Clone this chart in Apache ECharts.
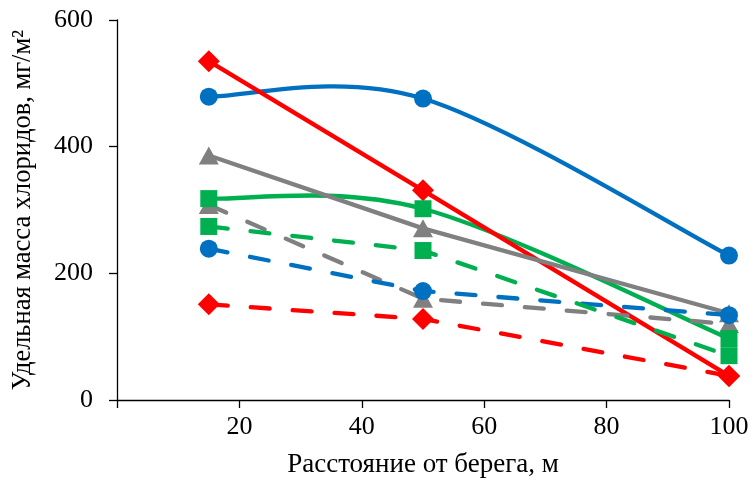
<!DOCTYPE html>
<html>
<head>
<meta charset="utf-8">
<script src="https://cdn.jsdelivr.net/npm/echarts@6/dist/echarts.min.js"></script>
<style>html,body{margin:0;padding:0;background:#fff}#c{width:753px;height:486px}</style>
</head>
<body>
<div id="c"></div>
<script>
var distances = [15, 50, 100];
var blueSolid = [479, 476, 228];
var redSolid = [535, 331, 38];
var graySolid = [386, 271, 137];
var greenSolid = [318, 302, 97];
var blueDashed = [239, 172, 134];
var grayDashed = [308, 160, 120];
var greenDashed = [274, 236, 70];
var redDashed = [151, 128, 38];
var xTicks = [0, 20, 40, 60, 80, 100];
var yTicks = [0, 200, 400, 600];

var BLUE = '#0070C0', RED = '#FF0000', GRAY = '#808080', GREEN = '#00B050';
var FONT = 'Liberation Serif';
var LW = 4.3;
function pts(vals){ return distances.map(function(x,i){ return [x, vals[i]]; }); }
function mk(vals, color, symbol, size, dashed, noLine){
  return {
    type: 'line', data: pts(vals), smooth: false,
    symbol: symbol, symbolSize: size, showSymbol: true,
    itemStyle: {color: color},
    lineStyle: {color: color, width: noLine ? 0 : LW, opacity: noLine ? 0 : 1,
      type: dashed ? [19, 23] : 'solid', cap: 'round', join: 'round'},
    animation: false, z: 2
  };
}
// Smooth curve (Excel-like Catmull-Rom bezier) drawn through the axis scales
function smoothCurve(vals, color){
  return {
    type: 'custom', data: pts(vals), encode: {x: 0, y: 1}, animation: false, silent: true, z: 2,
    renderItem: function(params, api){
      var i = params.dataIndex, n = vals.length;
      if (i >= n - 1) return null;
      var P = distances.map(function(x, k){ return api.coord([x, vals[k]]); });
      var p0 = P[Math.max(i - 1, 0)], p1 = P[i], p2 = P[i + 1], p3 = P[Math.min(i + 2, n - 1)];
      return {
        type: 'bezierCurve',
        shape: {
          x1: p1[0], y1: p1[1], x2: p2[0], y2: p2[1],
          cpx1: p1[0] + (p2[0] - p0[0]) / 6, cpy1: p1[1] + (p2[1] - p0[1]) / 6,
          cpx2: p2[0] - (p3[0] - p1[0]) / 6, cpy2: p2[1] - (p3[1] - p1[1]) / 6
        },
        style: {stroke: color, lineWidth: LW, fill: null, lineCap: 'round'}
      };
    }
  };
}
var chart = echarts.init(document.getElementById('c'), null, {renderer: 'canvas'});
chart.setOption({
  backgroundColor: '#fff',
  animation: false,
  grid: {left: 117, right: 24, top: 20, bottom: 86, containLabel: false},
  xAxis: {
    type: 'value', min: xTicks[0], max: xTicks[xTicks.length-1], interval: 20,
    name: 'Расстояние от берега, м', nameLocation: 'middle', nameGap: 51,
    nameTextStyle: {fontFamily: FONT, fontSize: 27, color: '#000'},
    axisLine: {show: true, lineStyle: {color: '#000', width: 1.3}},
    axisTick: {show: true, inside: false, length: 8, lineStyle: {color: '#000', width: 1.3}},
    axisLabel: {fontFamily: FONT, fontSize: 26, color: '#000', margin: 14,
      formatter: function(v){ return v === 0 ? '' : String(v); }},
    splitLine: {show: false}
  },
  yAxis: {
    type: 'value', min: yTicks[0], max: yTicks[yTicks.length-1], interval: 200,
    name: 'Удельная масса хлоридов, мг/м²', nameLocation: 'middle', nameGap: 80,
    nameTextStyle: {fontFamily: FONT, fontSize: 26.5, color: '#000'},
    axisLine: {show: true, lineStyle: {color: '#000', width: 1.3}},
    axisTick: {show: true, inside: false, length: 8, lineStyle: {color: '#000', width: 1.3}},
    axisLabel: {fontFamily: FONT, fontSize: 26, color: '#000', margin: 24},
    splitLine: {show: false}
  },
  series: [
    smoothCurve(blueSolid, BLUE),
    mk(blueSolid, BLUE, 'circle', 18, false, true),
    mk(redSolid, RED, 'diamond', 22, false, false),
    mk(graySolid, GRAY, 'triangle', [20, 18], false, false),
    mk(grayDashed, GRAY, 'triangle', [20, 18], true, false),
    smoothCurve(greenSolid, GREEN),
    mk(greenSolid, GREEN, 'rect', 17, false, true),
    mk(blueDashed, BLUE, 'circle', 18, true, false),
    mk(greenDashed, GREEN, 'rect', 17, true, false),
    mk(redDashed, RED, 'diamond', 22, true, false)
  ]
});
</script>
</body>
</html>
